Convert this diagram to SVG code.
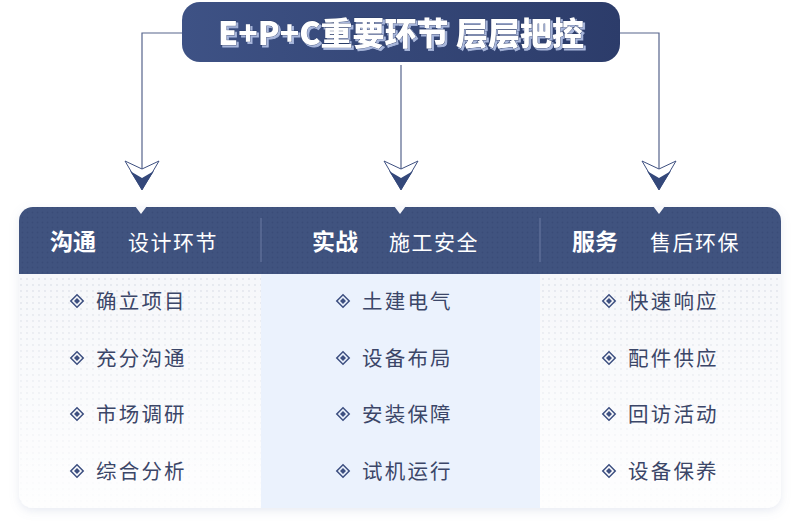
<svg xmlns="http://www.w3.org/2000/svg" width="800" height="530" viewBox="0 0 800 530">
<style>
.cjk{font-family:"Noto Sans CJK SC","Noto Sans",sans-serif;}
.hb{font-size:23px;font-weight:700;fill:#ffffff;}
.hn{font-size:21px;font-weight:400;fill:#ffffff;letter-spacing:1.5px;}
.it{font-size:20.5px;font-weight:400;fill:#3b4668;letter-spacing:2.2px;}
.conn{fill:none;stroke:#56648c;stroke-width:1.2;}
.chev-o{fill:#ffffff;stroke:#3d4f80;stroke-width:1;stroke-linejoin:miter;}
.chev-i{fill:#34487a;}
.notch{fill:#f7f8fb;}
.div{stroke:#6a7aa3;stroke-width:1;}
</style>
<defs>
<linearGradient id="pillG" x1="0" y1="0" x2="1" y2="0">
<stop offset="0" stop-color="#3e5285"/>
<stop offset="1" stop-color="#2c3c6a"/>
</linearGradient>
<pattern id="dotL" width="6" height="6" patternUnits="userSpaceOnUse">
<rect width="6" height="6" fill="#f6f7fa"/>
<circle cx="3" cy="3" r="0.9" fill="#dfe2ea"/>
</pattern>
<pattern id="dotH" width="5" height="5" patternUnits="userSpaceOnUse">
<rect width="5" height="5" fill="#40537f"/>
<circle cx="2.5" cy="2.5" r="0.9" fill="#3a4c78"/>
</pattern>
<linearGradient id="fade" x1="0" y1="274" x2="0" y2="508" gradientUnits="userSpaceOnUse">
<stop offset="0" stop-color="#ffffff" stop-opacity="0"/>
<stop offset="1" stop-color="#ffffff" stop-opacity="0.9"/>
</linearGradient>
<clipPath id="cardClip"><rect x="19" y="207" width="762" height="301" rx="14"/></clipPath>
<filter id="sh" x="-5%" y="-5%" width="110%" height="115%">
<feDropShadow dx="0" dy="3" stdDeviation="5" flood-color="#8090b8" flood-opacity="0.18"/>
</filter>
<filter id="tsh" x="-5%" y="-20%" width="110%" height="140%">
<feDropShadow dx="2" dy="2" stdDeviation="0.3" flood-color="#a9b7dc" flood-opacity="1"/>
</filter>
<g id="bul">
<rect x="-4.4" y="-4.4" width="8.8" height="8.8" transform="rotate(45)" fill="none" stroke="#3d4f80" stroke-width="1.5"/>
<rect x="-2.1" y="-2.1" width="4.2" height="4.2" transform="rotate(45)" fill="#3d4f80"/>
</g>
</defs>

<rect width="800" height="530" fill="#ffffff"/>

<g id="title">
<rect x="182" y="2" width="438" height="60" rx="18" fill="url(#pillG)"/>
<text class="cjk" x="401" y="45" text-anchor="middle" font-size="32" font-weight="900" fill="#ffffff" stroke="#2c3c68" stroke-width="0.8" paint-order="stroke" filter="url(#tsh)">E+P+C重要环节 层层把控</text>
</g>

<g id="connectors">
<path class="conn" d="M182 33 H142 V169"/>
<path class="conn" d="M401 65 V169"/>
<path class="conn" d="M620 33 H659 V169"/>
<g id="arrow1">
<polygon class="chev-o" points="125,161 142,169 159,161 142,190"/>
<polygon class="chev-i" points="130,171 142,178 154,171 142,190"/>
</g>
<g id="arrow2">
<polygon class="chev-o" points="384,161 401,169 418,161 401,190"/>
<polygon class="chev-i" points="389,171 401,178 413,171 401,190"/>
</g>
<g id="arrow3">
<polygon class="chev-o" points="642,161 659,169 676,161 659,190"/>
<polygon class="chev-i" points="647,171 659,178 671,171 659,190"/>
</g>
</g>

<g id="card">
<rect x="19" y="207" width="762" height="301" rx="14" fill="#ffffff" filter="url(#sh)"/>
<g clip-path="url(#cardClip)">
<rect x="19" y="274" width="242" height="234" fill="url(#dotL)"/>
<rect x="540" y="274" width="241" height="234" fill="url(#dotL)"/>
<rect x="19" y="274" width="242" height="234" fill="url(#fade)"/>
<rect x="540" y="274" width="241" height="234" fill="url(#fade)"/>
<rect x="261" y="274" width="279" height="235" fill="#ebf2fd"/>
<rect x="19" y="207" width="762" height="67" fill="url(#dotH)"/>
</g>
<line class="div" x1="261" y1="218" x2="261" y2="262"/>
<line class="div" x1="540" y1="218" x2="540" y2="262"/>
<polygon class="notch" points="135,206 147,206 141,214"/>
<polygon class="notch" points="394,206 406,206 400,214"/>
<polygon class="notch" points="653,206 665,206 659,214"/>
</g>

<g id="col1">
<text class="cjk hb" x="50" y="250">沟通</text>
<text class="cjk hn" x="128" y="250">设计环节</text>
<use href="#bul" x="77" y="301"/>
<text class="cjk it" x="96" y="309">确立项目</text>
<use href="#bul" x="77" y="358"/>
<text class="cjk it" x="96" y="366">充分沟通</text>
<use href="#bul" x="77" y="414"/>
<text class="cjk it" x="96" y="422">市场调研</text>
<use href="#bul" x="77" y="471"/>
<text class="cjk it" x="96" y="479">综合分析</text>
</g>

<g id="col2">
<text class="cjk hb" x="312" y="250">实战</text>
<text class="cjk hn" x="389" y="250">施工安全</text>
<use href="#bul" x="343" y="301"/>
<text class="cjk it" x="362" y="309">土建电气</text>
<use href="#bul" x="343" y="358"/>
<text class="cjk it" x="362" y="366">设备布局</text>
<use href="#bul" x="343" y="414"/>
<text class="cjk it" x="362" y="422">安装保障</text>
<use href="#bul" x="343" y="471"/>
<text class="cjk it" x="362" y="479">试机运行</text>
</g>

<g id="col3">
<text class="cjk hb" x="572" y="250">服务</text>
<text class="cjk hn" x="650" y="250">售后环保</text>
<use href="#bul" x="609" y="301"/>
<text class="cjk it" x="628" y="309">快速响应</text>
<use href="#bul" x="609" y="358"/>
<text class="cjk it" x="628" y="366">配件供应</text>
<use href="#bul" x="609" y="414"/>
<text class="cjk it" x="628" y="422">回访活动</text>
<use href="#bul" x="609" y="471"/>
<text class="cjk it" x="628" y="479">设备保养</text>
</g>
</svg>
